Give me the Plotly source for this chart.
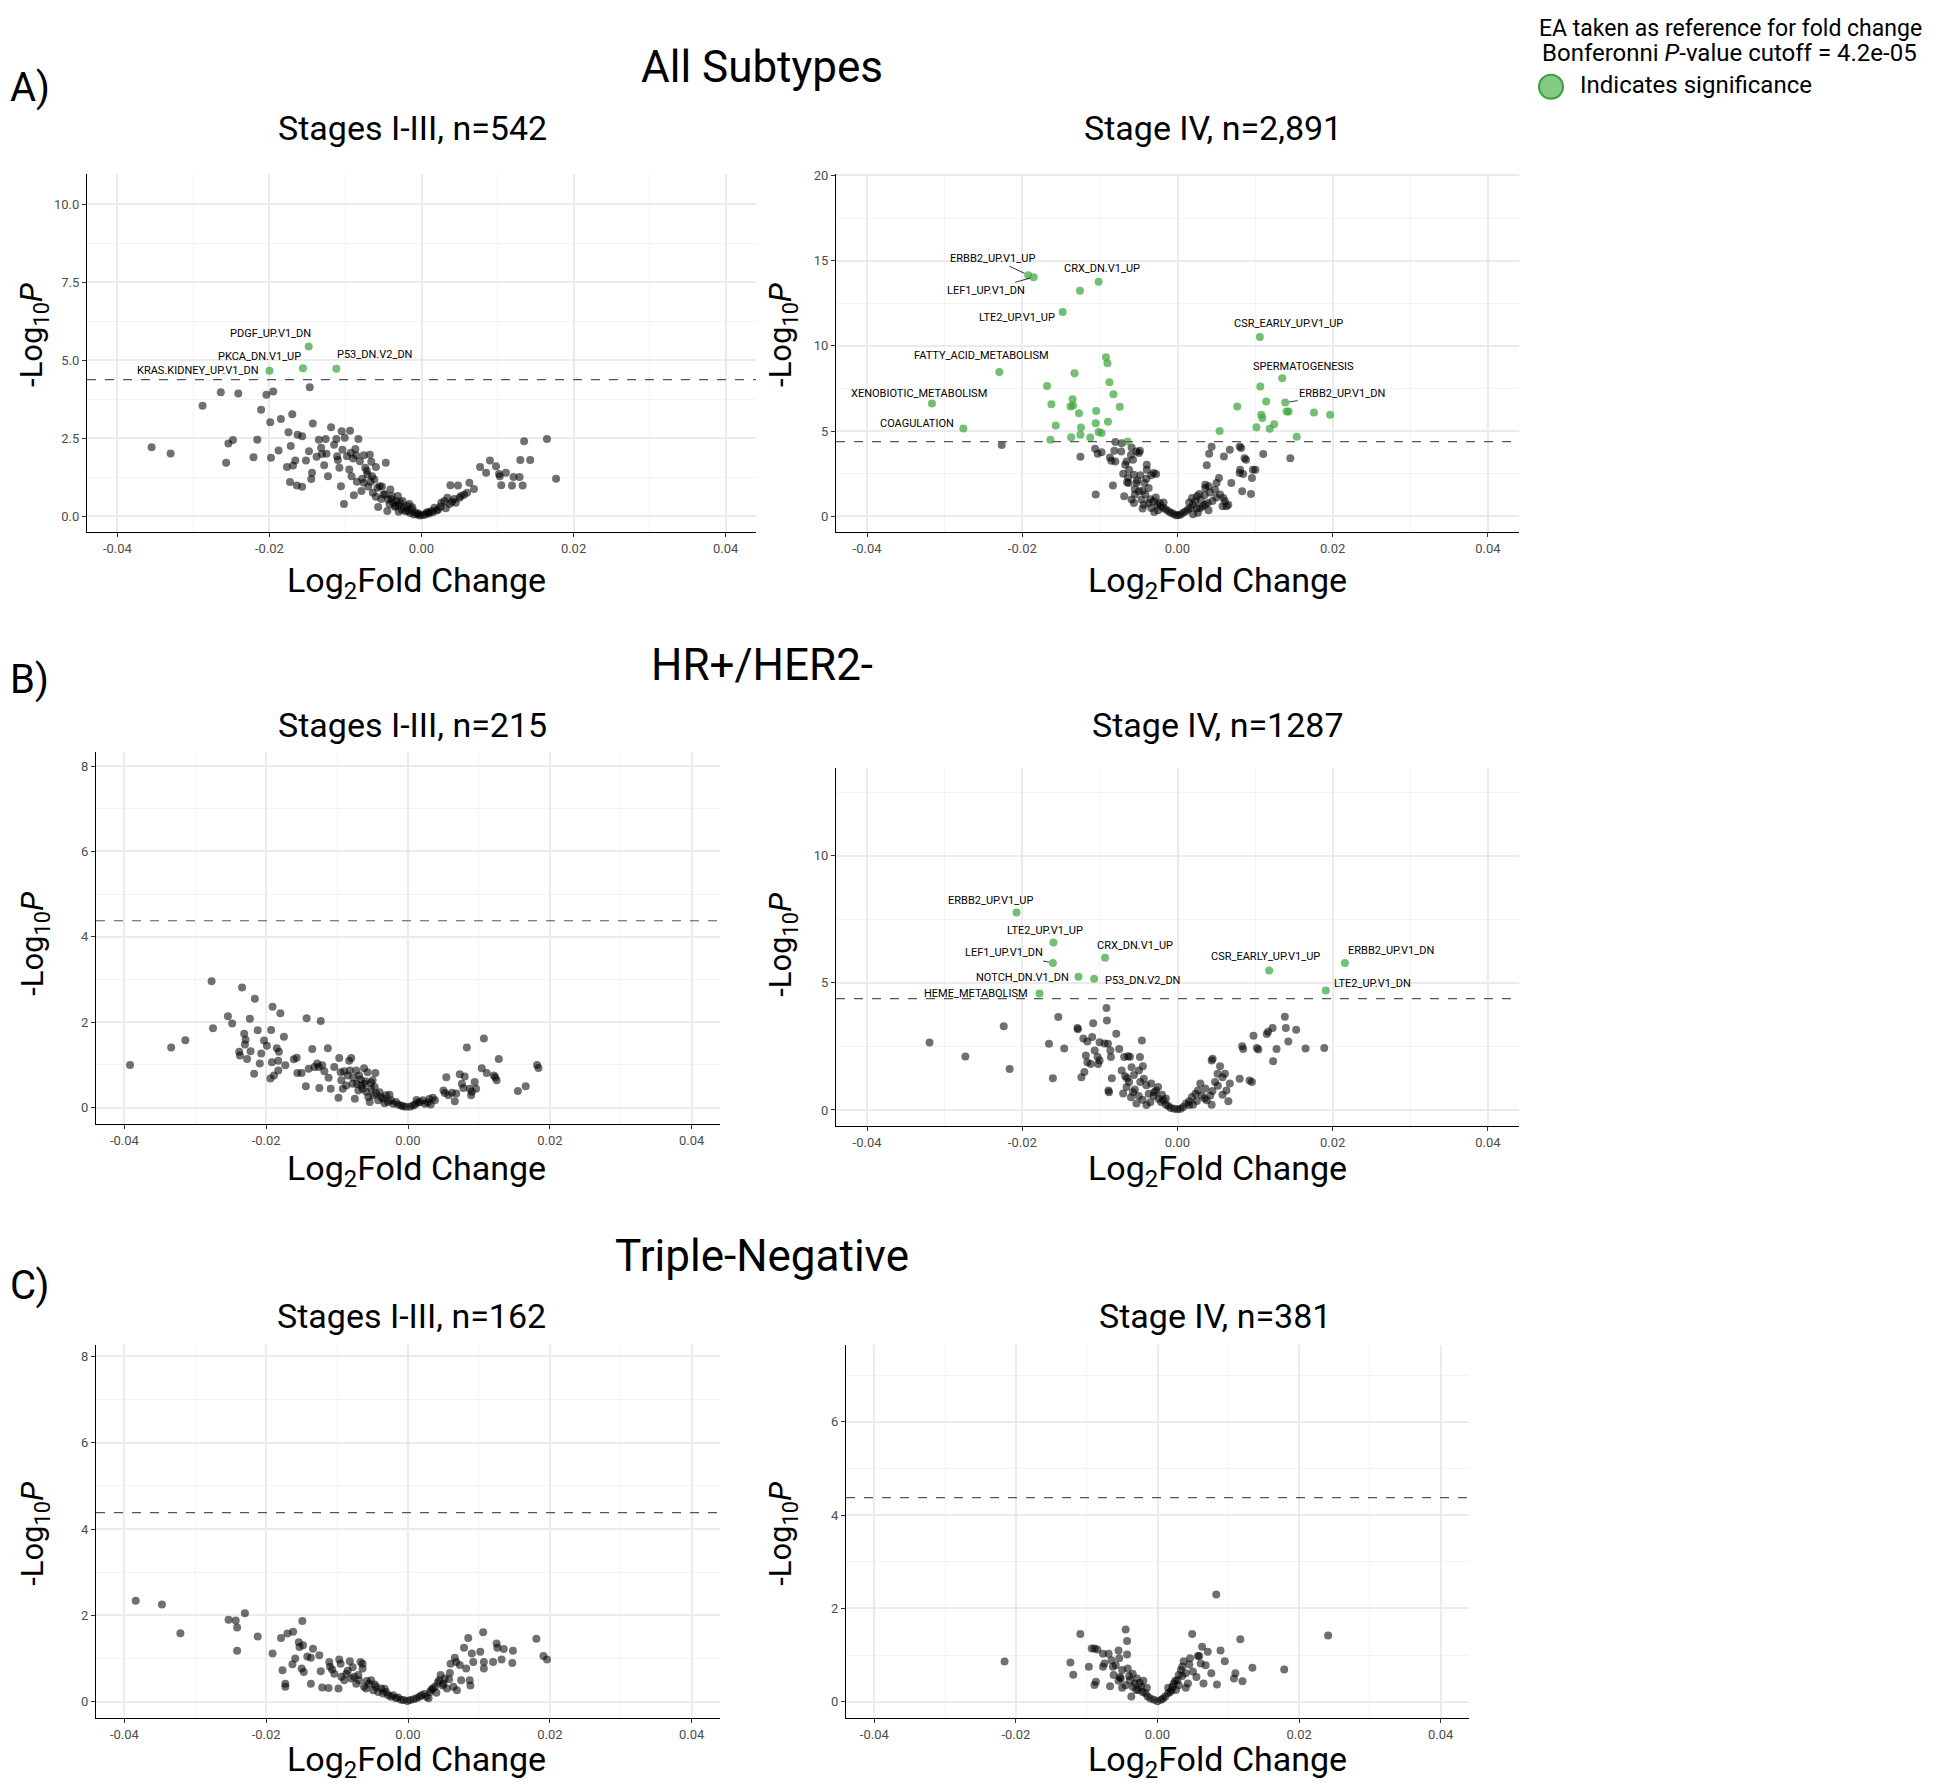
import math
import plotly.graph_objects as go

W, H = 1960, 1792
OFF = 8  # default page body margin; the figure is placed 8px in from the top-left corner
BONF_CUTOFF = 4.2e-05
THRESH = -math.log10(BONF_CUTOFF)

# ---------------- tick labels ----------------
X_TICKS = [-0.04, -0.02, 0.0, 0.02, 0.04]
X_TICKTEXT = ["-0.04", "-0.02", "0.00", "0.02", "0.04"]
X_MINOR = [-0.03, -0.01, 0.01, 0.03]
A1_YTICKS = [0, 2.5, 5, 7.5, 10]
A1_YTEXT = ["0.0", "2.5", "5.0", "7.5", "10.0"]
A2_YTICKS = [0, 5, 10, 15, 20]
B1_YTICKS = [0, 2, 4, 6, 8]
B2_YTICKS = [0, 5, 10]
C1_YTICKS = [0, 2, 4, 6, 8]
C2_YTICKS = [0, 2, 4, 6]

SECTIONS = ["All Subtypes", "HR+/HER2-", "Triple-Negative"]
SECTION_TAGS = ["A)", "B)", "C)"]
PANEL_TITLES = ["Stages I-III, n=542", "Stage IV, n=2,891",
                "Stages I-III, n=215", "Stage IV, n=1287",
                "Stages I-III, n=162", "Stage IV, n=381"]

# ---------------- data: (log2FC, -log10 P) ----------------
A1_NS = [(-0.0355,2.21),(-0.0330,2.01),(-0.0288,3.54),(-0.0264,3.97),(-0.0241,3.93),(-0.0257,1.71),
(-0.0254,2.33),(-0.0248,2.44),(-0.0221,1.89),(-0.0216,2.45),(-0.0211,3.41),(-0.0204,3.89),(-0.0195,4.00),
(-0.0199,3.01),(-0.0198,1.87),(-0.0188,2.10),(-0.0185,3.11),(-0.0170,3.27),(-0.0177,1.57),(-0.0173,1.09),
(-0.0164,0.98),(-0.0157,0.94),(-0.0175,2.69),(-0.0172,2.25),(-0.0166,1.78),(-0.0169,1.62),(-0.0163,2.61),
(-0.0157,2.56),(-0.0147,4.13),(-0.0143,2.97),(-0.0152,1.78),(-0.0148,2.08),(-0.0144,1.39),(-0.0145,1.19),
(-0.0135,2.45),(-0.0132,2.19),(-0.0131,1.99),(-0.0128,1.63),(-0.0126,2.47),(-0.0123,1.28),(-0.0119,2.85),
(-0.0115,2.29),(-0.0112,2.47),(-0.0111,1.92),(-0.0108,1.55),(-0.0105,2.72),(-0.0104,2.13),(-0.0101,2.51),
(-0.0098,1.92),(-0.0094,2.74),(-0.0093,2.03),(-0.0095,1.49),(-0.0092,1.28),(-0.0106,0.96),(-0.0102,0.39),
(-0.0089,0.67),(-0.0087,2.15),(-0.0083,2.47),(-0.0081,1.76),(-0.0076,1.95),(-0.0074,1.55),(-0.0068,1.97),
(-0.0066,1.74),(-0.0071,1.33),(-0.0076,1.07),(-0.0079,0.80),(-0.0065,1.28),(-0.0060,1.57),(-0.0062,1.17),
(-0.0058,0.91),(-0.0055,0.96),(-0.0047,1.71),(-0.0057,0.29),(-0.0050,0.69),(-0.0044,0.53),(-0.0041,0.85),
(-0.0037,0.43),(-0.0031,0.64),(-0.0045,0.16),(-0.0028,0.43),(-0.0025,0.48),(-0.0019,0.32),(-0.0016,0.39),
(-0.0013,0.21),(-0.0008,0.11),(-0.0005,0.05),(-0.0002,0.02),(-0.0010,0.05),(-0.0018,0.16),(-0.0030,0.14),
(-0.0023,0.27),(-0.0034,0.32),(-0.0039,0.64),(0.0005,0.05),(0.0009,0.11),(0.0013,0.16),(0.0017,0.27),
(0.0022,0.21),(0.0026,0.43),(0.0030,0.48),(0.0034,0.59),(0.0037,0.39),(0.0040,0.46),(0.0045,0.43),
(0.0050,0.59),(0.0052,0.64),(0.0038,0.99),(0.0048,0.98),(0.0063,1.07),(0.0069,0.87),(0.0077,1.57),
(0.0085,1.39),(0.0090,1.78),(0.0098,1.60),(0.0102,1.35),(0.0103,1.28),(0.0105,0.99),(0.0111,1.39),
(0.0119,0.98),(0.0121,1.25),(0.0129,1.25),(0.0130,1.80),(0.0133,0.98),(0.0135,2.40),(0.0143,1.80),
(0.0165,2.47),(0.0177,1.20),
(-0.0085,1.10),(-0.0078,1.20),(-0.0070,0.95),(-0.0064,0.75),(-0.0060,0.62),(-0.0053,0.55),(-0.0048,0.70),
(-0.0042,0.38),(-0.0035,0.30),(-0.0030,0.35),(-0.0026,0.20),(-0.0021,0.15),(-0.0015,0.10),(0.0010,0.08),
(0.0015,0.12),(0.0025,0.30),(0.0032,0.25),(0.0043,0.55),(0.0056,0.68),(0.0060,0.75),(-0.0110,1.80),
(-0.0125,2.00),(-0.0138,1.90),(-0.0090,1.85),(-0.0086,1.95),(-0.0072,1.45),(-0.0067,1.10),(-0.0052,0.95),
(-0.0040,0.55),(-0.0033,0.48),(-0.0012,0.28),(-0.0004,0.08),(0.0002,0.03),(0.0007,0.12),(0.0020,0.18)]
A1_SIG = [(-0.01484,5.44,"PDGF_UP.V1_DN"),(-0.0156,4.74,"PKCA_DN.V1_UP"),
          (-0.0112,4.73,"P53_DN.V2_DN"),(-0.0200,4.66,"KRAS.KIDNEY_UP.V1_DN")]

A2_NS = [(-0.02265,4.18),(-0.01251,3.49),(-0.01061,3.96),(-0.01029,3.67),(-0.00979,3.75),(-0.00801,4.35),
(-0.00719,4.29),(-0.00814,3.84),(-0.00725,3.80),(-0.00592,4.04),(-0.00497,3.71),(-0.00871,3.45),(-0.00852,3.26),
(-0.00801,3.22),(-0.00656,3.22),(-0.00573,3.32),(-0.00529,3.80),(-0.00484,3.84),(-0.00674,3.02),(-0.00624,2.73),
(-0.00637,2.28),(-0.00630,1.95),(-0.00561,2.44),(-0.00529,1.95),(-0.00478,2.40),(-0.00396,3.02),(-0.00396,2.73),
(-0.00339,2.40),(-0.00307,2.54),(-0.00276,2.48),(-0.00427,1.95),(-0.00371,1.66),(-0.00497,1.46),(-0.00415,1.27),
(-0.00548,1.27),(-0.00832,1.81),(-0.01054,1.27),(-0.00687,1.17),(-0.00592,0.98),(-0.00561,0.78),(-0.00465,0.98),
(-0.00434,0.68),(-0.00371,0.78),(-0.00339,0.49),(-0.00307,0.88),(-0.00257,0.68),(-0.00231,0.78),(-0.00212,0.59),
(-0.00181,0.49),(-0.00149,0.39),(-0.00117,0.29),(-0.00086,0.20),(-0.00054,0.14),(-0.00022,0.06),(0.00010,0.06),
(0.00041,0.10),(0.00073,0.20),(0.00105,0.29),(0.00136,0.39),(0.00168,0.49),(0.00200,0.68),(0.00231,0.88),
(0.00187,1.07),(0.00250,1.17),(0.00263,0.20),(0.00294,0.49),(0.00326,0.59),(0.00358,0.68),(0.00389,0.78),
(0.00358,1.66),(0.00358,1.85),(0.00402,1.76),(0.00377,2.99),(0.00408,3.67),(0.00440,4.08),(0.00484,1.56),
(0.00503,1.95),(0.00535,2.24),(0.00548,1.27),(0.00580,0.59),(0.00611,0.88),(0.00630,0.59),(0.00598,3.51),
(0.00674,3.90),(0.00693,1.95),(0.00801,4.10),(0.00820,4.00),(0.00864,3.41),(0.00883,3.32),(0.00807,2.73),
(0.00801,2.54),(0.00846,2.48),(0.00959,2.24),(0.00972,2.73),(0.01004,2.73),(0.00947,1.31),(0.00833,1.46),
(0.00592,1.07),(0.00655,0.68),(0.01105,3.65),(0.01454,3.40),
(-0.0045,1.50),(-0.0052,2.10),(-0.0035,1.00),(-0.0028,1.10),(-0.0025,0.35),(-0.0018,0.80),(0.0015,0.80),
(0.0028,1.30),(0.0030,0.95),(0.0035,1.25),(0.0042,1.40),(-0.0060,3.60),(-0.0070,2.50),(-0.0065,2.00),
(-0.0055,1.60),(-0.0040,2.20),(-0.0045,0.45),(-0.0030,0.25),(0.0020,0.12),(0.0025,0.45),(0.0040,0.35),
(0.0045,0.90),(0.0050,1.10)]
A2_SIG = [(-0.01922,14.15,"ERBB2_UP.V1_UP"),(-0.01853,14.03,"LEF1_UP.V1_DN"),(-0.01016,13.76,"CRX_DN.V1_UP"),
(-0.01257,13.23,""),(-0.01479,11.98,"LTE2_UP.V1_UP"),(0.01061,10.52,"CSR_EARLY_UP.V1_UP"),
(-0.02296,8.47,"FATTY_ACID_METABOLISM"),(-0.03164,6.61,"XENOBIOTIC_METABOLISM"),(-0.02759,5.15,"COAGULATION"),
(0.01349,8.10,"SPERMATOGENESIS"),(0.01387,6.67,"ERBB2_UP.V1_DN"),
(-0.00922,9.33,""),(-0.00903,8.98,""),(-0.01327,8.39,""),(-0.00877,7.86,""),(-0.01681,7.65,""),(-0.00826,7.16,""),
(-0.01352,6.87,""),(-0.01625,6.58,""),(-0.01346,6.50,""),(-0.01378,6.44,""),(-0.00744,6.42,""),(-0.01048,6.17,""),
(-0.01270,6.05,""),(-0.01568,5.33,""),(-0.01244,5.21,""),(-0.01054,5.46,""),(-0.00896,5.54,""),(-0.01016,4.94,""),
(-0.00979,4.88,""),(-0.01251,4.78,""),(-0.01371,4.64,""),(-0.01124,4.62,""),(-0.01637,4.49,""),(-0.00643,4.39,""),
(0.01067,7.61,""),(0.00770,6.44,""),(0.01143,6.73,""),(0.01080,5.95,""),(0.01093,5.76,""),(0.01406,6.15,""),
(0.01432,6.15,""),(0.01758,6.09,""),(0.01967,5.95,""),(0.00542,5.01,""),(0.01017,5.23,""),(0.01188,5.13,""),
(0.01245,5.40,""),(0.01536,4.66,"")]

B1_NS = [(-0.0392,1.00),(-0.0334,1.41),(-0.0314,1.58),(-0.0277,2.96),(-0.0275,1.86),(-0.0254,2.14),(-0.0248,1.97),
(-0.0234,2.81),(-0.0231,1.73),(-0.0229,1.59),(-0.0230,1.48),(-0.0238,1.31),(-0.0237,1.22),(-0.0227,1.14),
(-0.0223,2.08),(-0.0222,1.32),(-0.0217,0.79),(-0.0216,2.55),(-0.0212,1.81),(-0.0209,1.03),(-0.0207,1.27),
(-0.0203,1.57),(-0.0199,1.45),(-0.0193,1.82),(-0.0191,2.36),(-0.0194,0.68),(-0.0192,1.06),(-0.0189,0.75),
(-0.0185,1.39),(-0.0183,1.10),(-0.0182,1.31),(-0.0183,0.87),(-0.0180,2.21),(-0.0175,1.66),(-0.0173,0.99),
(-0.0161,1.13),(-0.0157,1.17),(-0.0156,0.81),(-0.0150,0.81),(-0.0144,0.50),(-0.0143,2.09),(-0.0140,0.91),
(-0.0135,1.37),(-0.0132,0.95),(-0.0128,1.03),(-0.0126,0.95),(-0.0125,0.46),(-0.0123,2.03),(-0.0121,0.99),
(-0.0118,0.85),(-0.0113,1.39),(-0.0112,0.70),(-0.0109,0.44),(-0.0104,0.95),(-0.0098,0.23),(-0.0097,1.16),
(-0.0095,0.83),(-0.0094,0.64),(-0.0092,0.44),(-0.0090,0.85),(-0.0087,0.52),(-0.0083,1.10),(-0.0082,0.87),
(-0.0080,1.16),(-0.0078,0.56),(-0.0075,0.21),(-0.0073,0.87),(-0.0069,0.75),(-0.0067,0.66),(-0.0064,0.44),
(-0.0062,0.92),(-0.0061,0.56),(-0.0059,0.37),(-0.0057,0.83),(-0.0054,0.13),(-0.0052,0.44),(-0.0050,0.64),
(-0.0049,0.29),(-0.0046,0.81),(-0.0045,0.33),(-0.0042,0.17),(-0.0038,0.25),(-0.0035,0.21),(-0.0031,0.29),
(-0.0028,0.13),(-0.0024,0.17),(-0.0021,0.09),(-0.0017,0.13),(-0.0014,0.07),(-0.0010,0.05),(-0.0007,0.03),
(-0.0003,0.02),(0.0003,0.02),(0.0007,0.05),(0.0010,0.07),(0.0014,0.12),(0.0017,0.13),(0.0021,0.17),
(0.0024,0.09),(0.0032,0.07),(0.0035,0.23),(0.0038,0.17),(0.0050,0.40),(0.0052,0.34),(0.0054,0.71),
(0.0057,0.29),(0.0062,0.35),(0.0066,0.15),(0.0068,0.33),(0.0073,0.78),(0.0076,0.56),(0.0080,0.73),
(0.0078,0.46),(0.0083,1.41),(0.0087,0.44),(0.0089,0.29),(0.0090,0.37),(0.0094,0.60),(0.0096,0.44),
(0.0104,0.92),(0.0107,1.62),(0.0111,0.81),(0.0121,0.75),(0.0125,0.64),(0.0123,0.71),(0.0128,1.14),
(0.0155,0.39),(0.0166,0.50),(0.0182,1.00),(0.0184,0.93),
(-0.0070,0.40),(-0.0066,0.52),(-0.0060,0.62),(-0.0056,0.25),(-0.0052,0.58),(-0.0047,0.48),(-0.0040,0.36),
(-0.0033,0.10),(-0.0026,0.30),(0.0012,0.18),(0.0028,0.12),(0.0030,0.20),(-0.0085,0.75),(-0.0077,0.70),
(-0.0072,0.55)]

B2_NS = [(-0.03195,2.65),(-0.02733,2.10),(-0.02239,3.29),(-0.02163,1.61),(-0.01656,2.60),(-0.01606,1.25),
(-0.01536,3.66),(-0.01460,2.42),(-0.01289,3.22),(-0.01283,3.17),(-0.01213,2.81),(-0.01162,2.69),(-0.01099,2.87),
(-0.01086,3.41),(-0.01067,2.34),(-0.01181,2.14),(-0.01162,1.88),(-0.01118,1.81),(-0.01023,1.81),(-0.01004,1.95),
(-0.01029,2.08),(-0.01200,1.49),(-0.01238,1.29),(-0.01004,2.66),(-0.00940,2.61),(-0.00909,3.52),(-0.00915,4.01),
(-0.00896,2.60),(-0.00865,2.34),(-0.00858,2.08),(-0.00846,1.25),(-0.00890,0.77),(-0.00883,0.70),(-0.00789,3.00),
(-0.00751,2.40),(-0.00719,1.55),(-0.00687,2.08),(-0.00674,1.33),(-0.00637,2.11),(-0.00612,2.09),(-0.00656,0.90),
(-0.00624,1.10),(-0.00592,1.68),(-0.00573,0.70),(-0.00561,1.38),(-0.00529,0.25),(-0.00497,1.55),(-0.00484,2.08),
(-0.00459,2.73),(-0.00446,1.72),(-0.00434,1.23),(-0.00402,0.97),(-0.00371,0.64),(-0.00339,1.04),(-0.00307,0.55),
(-0.00276,0.77),(-0.00244,0.44),(-0.00212,0.31),(-0.00181,0.38),(-0.00149,0.21),(-0.00117,0.16),(-0.00086,0.08),
(-0.00041,0.05),(0.0,0.03),(0.00041,0.05),(0.00073,0.12),(0.00111,0.25),(0.00149,0.34),(0.00187,0.51),
(0.00200,0.21),(0.00231,0.64),(0.00263,0.77),(0.00294,1.04),(0.00313,0.57),(0.00358,0.84),(0.00377,0.38),
(0.00421,0.57),(0.00440,1.95),(0.00453,2.01),(0.00440,0.21),(0.00484,1.10),(0.00516,1.42),(0.00548,1.72),
(0.00580,1.29),(0.00611,1.42),(0.00630,0.77),(0.00655,0.34),(0.00674,1.04),(0.00801,1.23),(0.00833,2.51),
(0.00846,2.40),(0.00928,1.16),(0.00959,1.10),(0.00979,2.92),(0.01023,2.44),(0.01042,2.38),(0.01150,2.99),
(0.01168,3.08),(0.01225,3.22),(0.01232,1.92),(0.01276,2.40),(0.01383,3.67),(0.01396,3.22),(0.01428,2.69),
(0.01529,3.15),(0.01650,2.42),(0.01891,2.44),
(-0.0035,0.30),(-0.0030,0.70),(-0.0025,0.90),(-0.0020,0.60),(-0.0015,0.45),(0.0015,0.20),(0.0025,0.35),
(0.0035,0.45),(-0.0050,0.55),(-0.0055,0.80),(-0.0060,0.50),(-0.0045,0.40),(-0.0040,0.20),(-0.0065,1.25),
(-0.0070,0.65),(-0.0048,1.10),(0.0045,0.75),(0.0052,0.95),(0.0058,0.60)]
B2_SIG = [(-0.02074,7.77,"ERBB2_UP.V1_UP"),(-0.01599,6.59,"LTE2_UP.V1_UP"),(-0.01606,5.78,"LEF1_UP.V1_DN"),
(-0.00934,5.99,"CRX_DN.V1_UP"),(-0.01276,5.24,"NOTCH_DN.V1_DN"),(-0.01074,5.16,"P53_DN.V2_DN"),
(-0.01777,4.58,"HEME_METABOLISM"),(0.01181,5.48,"CSR_EARLY_UP.V1_UP"),(0.02157,5.78,"ERBB2_UP.V1_DN"),
(0.01910,4.70,"LTE2_UP.V1_DN")]

C1_NS = [(-0.0384,2.34),(-0.0347,2.25),(-0.0321,1.59),(-0.0253,1.90),(-0.0243,1.88),(-0.0241,1.72),(-0.0241,1.18),
(-0.0230,2.05),(-0.0212,1.51),(-0.0191,1.12),(-0.0179,1.48),(-0.0177,0.73),(-0.0173,0.42),(-0.0173,0.35),
(-0.0170,1.58),(-0.0162,1.62),(-0.0163,0.87),(-0.0159,1.00),(-0.0154,1.38),(-0.0153,1.27),(-0.0149,1.87),
(-0.0148,1.31),(-0.0150,0.77),(-0.0147,0.69),(-0.0142,1.05),(-0.0137,1.02),(-0.0137,0.42),(-0.0134,1.23),
(-0.0125,1.08),(-0.0123,0.71),(-0.0121,0.33),(-0.0112,0.32),(-0.0111,0.92),(-0.0110,0.81),(-0.0107,0.75),
(-0.0104,0.65),(-0.0098,0.31),(-0.0097,0.98),(-0.0095,0.88),(-0.0094,0.58),(-0.0090,0.50),(-0.0087,0.65),
(-0.0082,0.94),(-0.0080,0.54),(-0.0076,0.58),(-0.0073,0.42),(-0.0069,0.50),(-0.0067,0.92),(-0.0064,0.88),
(-0.0064,0.77),(-0.0062,0.35),(-0.0059,0.31),(-0.0055,0.42),(-0.0052,0.50),(-0.0049,0.27),(-0.0045,0.35),
(-0.0042,0.23),(-0.0038,0.31),(-0.0035,0.19),(-0.0031,0.23),(-0.0028,0.15),(-0.0024,0.12),(-0.0021,0.15),
(-0.0017,0.08),(-0.0014,0.10),(-0.0010,0.05),(-0.0006,0.04),(-0.0001,0.02),(0.0003,0.04),(0.0008,0.06),
(0.0012,0.08),(0.0016,0.12),(0.0019,0.15),(0.0023,0.18),(0.0026,0.12),(0.0029,0.08),(0.0031,0.23),
(0.0035,0.31),(0.0038,0.35),(0.0040,0.21),(0.0044,0.50),(0.0046,0.62),(0.0049,0.38),(0.0052,0.54),
(0.0055,0.31),(0.0059,0.67),(0.0060,0.88),(0.0064,0.35),(0.0066,1.02),(0.0068,0.92),(0.0069,0.27),
(0.0073,0.85),(0.0075,0.50),(0.0079,1.25),(0.0082,0.77),(0.0085,1.48),(0.0087,0.50),(0.0088,0.38),
(0.0090,1.12),(0.0092,0.92),(0.0102,1.16),(0.0106,1.61),(0.0107,0.92),(0.0107,0.77),(0.0120,0.92),
(0.0125,1.35),(0.0126,1.25),(0.0132,0.98),(0.0135,1.22),(0.0148,1.18),(0.0147,0.90),(0.0181,1.46),
(0.0191,1.06),(0.0196,0.98),
(-0.0085,0.72),(-0.0078,0.80),(-0.0070,0.62),(-0.0058,0.48),(-0.0047,0.40),(-0.0033,0.30),(0.0033,0.28),
(0.0042,0.45),(0.0050,0.42),(0.0058,0.52)]

C2_NS = [(-0.0216,0.86),(-0.0123,0.84),(-0.0119,0.58),(-0.0109,1.45),(-0.0097,0.75),(-0.0093,1.14),(-0.0089,1.14),
(-0.0085,1.12),(-0.0087,0.43),(-0.0089,0.36),(-0.0077,1.03),(-0.0077,0.75),(-0.0075,0.82),(-0.0069,1.03),
(-0.0067,0.33),(-0.0065,0.89),(-0.0063,0.75),(-0.0062,0.57),(-0.0059,0.78),(-0.0055,1.10),(-0.0054,0.93),
(-0.0053,0.53),(-0.0052,0.50),(-0.0050,0.68),(-0.0045,1.55),(-0.0043,1.30),(-0.0043,1.01),(-0.0042,0.71),
(-0.0039,0.46),(-0.0037,0.11),(-0.0035,0.32),(-0.0032,0.39),(-0.0029,0.50),(-0.0027,0.25),(-0.0023,0.32),
(-0.0021,0.21),(-0.0017,0.18),(-0.0014,0.11),(-0.0010,0.07),(-0.0005,0.04),(0.0,0.01),(0.0005,0.04),
(0.0008,0.07),(0.0011,0.11),(0.0015,0.18),(0.0018,0.21),(0.0021,0.32),(0.0023,0.39),(0.0026,0.25),
(0.0028,0.46),(0.0030,0.57),(0.0033,0.68),(0.0035,0.75),(0.0037,0.87),(0.0040,0.61),(0.0043,0.39),
(0.0046,0.93),(0.0049,1.45),(0.0055,0.53),(0.0057,0.98),(0.0059,0.98),(0.0061,0.82),(0.0063,1.18),
(0.0065,0.39),(0.0068,0.78),(0.0071,1.07),(0.0076,0.61),(0.0083,2.30),(0.0084,0.37),(0.0089,1.10),
(0.0095,0.87),(0.0108,0.50),(0.0110,0.61),(0.0117,1.34),(0.0120,0.44),(0.0134,0.73),(0.0179,0.69),
(0.0241,1.42),
(-0.0030,0.25),(-0.0025,0.40),(-0.0020,0.45),(-0.0015,0.30),(0.0015,0.30),(0.0020,0.25),(0.0025,0.45),
(0.0030,0.35),(0.0035,0.55),(-0.0035,0.60),(-0.0040,0.55),(-0.0045,0.35),(-0.0050,0.30),(0.0040,0.30),
(0.0050,0.65),(-0.0055,0.45),(0.0045,0.80)]

# ---------------- styling / layout (pixels in the 1960x1792 page) ----------------
PANELS = [
    dict(ns=A1_NS, sig=A1_SIG, px=(87, 756), py=(169, 528), yr=(-0.52, 10.96),
         yt=A1_YTICKS, ytt=A1_YTEXT, ym=[1.25, 3.75, 6.25, 8.75], xt_x=416, xt_y=578, yt_x=34, yt_y=330),
    dict(ns=A2_NS, sig=A2_SIG, px=(836, 1519), py=(169, 528), yr=(-0.94, 20.06),
         yt=A2_YTICKS, ytt=None, ym=[2.5, 7.5, 12.5, 17.5], xt_x=1217, xt_y=578, yt_x=783, yt_y=330),
    dict(ns=B1_NS, sig=[], px=(96, 720), py=(748, 1122), yr=(-0.39, 8.34),
         yt=B1_YTICKS, ytt=None, ym=[1, 3, 5, 7], xt_x=416, xt_y=1168, yt_x=35, yt_y=941),
    dict(ns=B2_NS, sig=B2_SIG, px=(836, 1519), py=(765, 1124), yr=(-0.64, 13.43),
         yt=B2_YTICKS, ytt=None, ym=[2.5, 7.5, 12.5], xt_x=1217, xt_y=1168, yt_x=783, yt_y=942),
    dict(ns=C1_NS, sig=[], px=(96, 720), py=(1343, 1718), yr=(-0.38, 8.27),
         yt=C1_YTICKS, ytt=None, ym=[1, 3, 5, 7], xt_x=416, xt_y=1761, yt_x=35, yt_y=1533),
    dict(ns=C2_NS, sig=[], px=(846, 1469), py=(1343, 1718), yr=(-0.355, 7.66),
         yt=C2_YTICKS, ytt=None, ym=[1, 3, 5, 7], xt_x=1217, xt_y=1761, yt_x=783, yt_y=1533),
]
TITLE_POS = [(412, 122), (1213, 122), (412, 721), (1218, 721), (411, 1314), (1215, 1314)]
SECTION_POS = [(762, 61), (762, 661), (762, 1254)]
TAG_POS = [(0, 82), (0, 676), (0, 1284)]

# label offsets in pixels (dx right, dy up), leader flag
LABEL_OFFSETS = {
    (0, "PDGF_UP.V1_DN"): (-38, 13, False), (0, "PKCA_DN.V1_UP"): (-43, 12, False),
    (0, "P53_DN.V2_DN"): (38, 14, False), (0, "KRAS.KIDNEY_UP.V1_DN"): (-71, 0, False),
    (1, "ERBB2_UP.V1_UP"): (-36, 17, True), (1, "LEF1_UP.V1_DN"): (-48, -13, True),
    (1, "CRX_DN.V1_UP"): (3, 13, False), (1, "LTE2_UP.V1_UP"): (-46, -5, False),
    (1, "CSR_EARLY_UP.V1_UP"): (29, 13, False), (1, "FATTY_ACID_METABOLISM"): (-18, 16, False),
    (1, "XENOBIOTIC_METABOLISM"): (-13, 10, False), (1, "COAGULATION"): (-46, 5, False),
    (1, "SPERMATOGENESIS"): (21, 12, False), (1, "ERBB2_UP.V1_DN"): (57, 9, True),
    (3, "ERBB2_UP.V1_UP"): (-26, 12, False), (3, "LTE2_UP.V1_UP"): (-8, 12, False),
    (3, "LEF1_UP.V1_DN"): (-49, 10, True), (3, "CRX_DN.V1_UP"): (30, 12, False),
    (3, "NOTCH_DN.V1_DN"): (-56, -1, False), (3, "P53_DN.V2_DN"): (48, -2, False),
    (3, "HEME_METABOLISM"): (-64, 0, False), (3, "CSR_EARLY_UP.V1_UP"): (-4, 14, False),
    (3, "ERBB2_UP.V1_DN"): (46, 12, False), (3, "LTE2_UP.V1_DN"): (47, 7, False),
}

FONT = "Roboto, Arial, sans-serif"
NS_COLOR = "black"
SIG_COLOR = "#3DA63D"
FW, FH = W - OFF, H - OFF


def fx(p):
    return (p - OFF) / FW


def fy(p):
    return 1 - (p - OFF) / FH


fig = go.Figure()
layout = dict(width=FW, height=FH, margin=dict(l=0, r=0, t=0, b=0),
              paper_bgcolor="white", plot_bgcolor="white", showlegend=False,
              font=dict(family=FONT, color="black"))
annotations = []
shapes = []

for i, p in enumerate(PANELS):
    k = "" if i == 0 else str(i + 1)
    xa, ya = "x" + k, "y" + k
    layout["xaxis" + k] = dict(
        domain=[fx(p["px"][0]), fx(p["px"][1])], range=[-0.044, 0.044], anchor=ya,
        tickmode="array", tickvals=X_TICKS, ticktext=X_TICKTEXT,
        showgrid=True, gridcolor="#EBEBEB", gridwidth=1.8, zeroline=False,
        minor=dict(tickmode="array", tickvals=X_MINOR, showgrid=True, gridcolor="#F3F3F3", gridwidth=1, ticks=""),
        showline=True, linecolor="black", linewidth=1.3, ticks="outside", ticklen=4, tickwidth=1,
        tickcolor="#333333", tickfont=dict(size=13, color="#4D4D4D", family=FONT), fixedrange=True)
    layout["yaxis" + k] = dict(
        domain=[fy(p["py"][1]), fy(p["py"][0])], range=list(p["yr"]), anchor=xa,
        tickmode="array", tickvals=p["yt"], ticktext=(p["ytt"] if p["ytt"] else [str(v) for v in p["yt"]]),
        showgrid=True, gridcolor="#EBEBEB", gridwidth=1.8, zeroline=False,
        minor=dict(tickmode="array", tickvals=p["ym"], showgrid=True, gridcolor="#F3F3F3", gridwidth=1, ticks=""),
        showline=True, linecolor="black", linewidth=1.3, ticks="outside", ticklen=4, tickwidth=1,
        tickcolor="#333333", tickfont=dict(size=13, color="#4D4D4D", family=FONT), fixedrange=True)

    # zero line and significance threshold
    shapes.append(dict(type="line", xref=xa, x0=0, x1=0, yref=ya + " domain", y0=0, y1=1,
                       line=dict(color="#D6D6D6", width=1, dash="dash"), layer="below"))
    shapes.append(dict(type="line", xref=xa + " domain", x0=0, x1=1, yref=ya, y0=THRESH, y1=THRESH,
                       line=dict(color="#555555", width=1.2, dash="dash"), layer="above"))

    nx = [a for a, b in p["ns"]]
    ny = [b for a, b in p["ns"]]
    fig.add_trace(go.Scatter(x=nx, y=ny, mode="markers", xaxis=xa, yaxis=ya, hoverinfo="skip",
                             marker=dict(size=8, color=NS_COLOR, opacity=0.56, line=dict(width=0))))
    if p["sig"]:
        sx = [a for a, b, c in p["sig"]]
        sy = [b for a, b, c in p["sig"]]
        fig.add_trace(go.Scatter(x=sx, y=sy, mode="markers", xaxis=xa, yaxis=ya, hoverinfo="skip",
                                 marker=dict(size=8, color=SIG_COLOR, opacity=0.72, line=dict(width=0))))
        for a, b, lab in p["sig"]:
            if not lab:
                continue
            dx, dy, leader = LABEL_OFFSETS[(i, lab)]
            if leader:
                annotations.append(dict(x=a, y=b, xref=xa, yref=ya, text=lab, showarrow=True,
                                        ax=dx, ay=-dy, arrowhead=0, arrowwidth=0.8, arrowcolor="black",
                                        standoff=4, font=dict(size=11, color="black", family=FONT)))
            else:
                annotations.append(dict(x=a, y=b, xref=xa, yref=ya, text=lab, showarrow=False,
                                        xshift=dx, yshift=dy, font=dict(size=11, color="black", family=FONT)))

    # axis titles
    annotations.append(dict(x=fx(p["xt_x"]), y=fy(p["xt_y"]), xref="paper", yref="paper",
                            text="Log<sub>2</sub>Fold Change", showarrow=False, xanchor="center", yanchor="middle",
                            font=dict(size=34, color="black", family=FONT)))
    annotations.append(dict(x=fx(p["yt_x"]), y=fy(p["yt_y"]), xref="paper", yref="paper",
                            text="-Log<sub>10</sub><i>P</i>", showarrow=False, textangle=-90,
                            xanchor="center", yanchor="middle", font=dict(size=31, color="black", family=FONT)))

for t, (x, y) in zip(PANEL_TITLES, TITLE_POS):
    annotations.append(dict(x=fx(x), y=fy(y), xref="paper", yref="paper", text=t, showarrow=False,
                            xanchor="center", yanchor="middle", font=dict(size=34, color="black", family=FONT)))
for t, (x, y) in zip(SECTIONS, SECTION_POS):
    annotations.append(dict(x=fx(x), y=fy(y), xref="paper", yref="paper", text=t, showarrow=False,
                            xanchor="center", yanchor="middle", font=dict(size=44, color="black", family=FONT)))
for t, (x, y) in zip(SECTION_TAGS, TAG_POS):
    annotations.append(dict(x=fx(max(x, OFF)), y=fy(y), xref="paper", yref="paper", text=t, showarrow=False,
                            xanchor="left", yanchor="middle", font=dict(size=40, color="black", family=FONT)))

# top-right legend
annotations.append(dict(x=fx(1538), y=1.0, xref="paper", yref="paper",
                        text="EA taken as reference for fold change", showarrow=False,
                        xanchor="left", yanchor="top", borderpad=0,
                        font=dict(size=23, color="black", family=FONT)))
annotations.append(dict(x=fx(1540), y=fy(47), xref="paper", yref="paper",
                        text="Bonferonni <i>P</i>-value cutoff = 4.2e-05", showarrow=False,
                        xanchor="left", yanchor="middle", font=dict(size=24, color="black", family=FONT)))
annotations.append(dict(x=fx(1578), y=fy(79), xref="paper", yref="paper",
                        text="Indicates significance", showarrow=False,
                        xanchor="left", yanchor="middle", font=dict(size=24, color="black", family=FONT)))
shapes.append(dict(type="circle", xref="paper", yref="paper", xsizemode="pixel", ysizemode="pixel",
                   xanchor=fx(1551), yanchor=fy(81), x0=-12, x1=12, y0=-12, y1=12,
                   fillcolor="rgba(80,180,80,0.7)", line=dict(color="#3C9E3C", width=2)))

layout["annotations"] = annotations
layout["shapes"] = shapes
fig.update_layout(**layout)
fig.write_html("out.html")
